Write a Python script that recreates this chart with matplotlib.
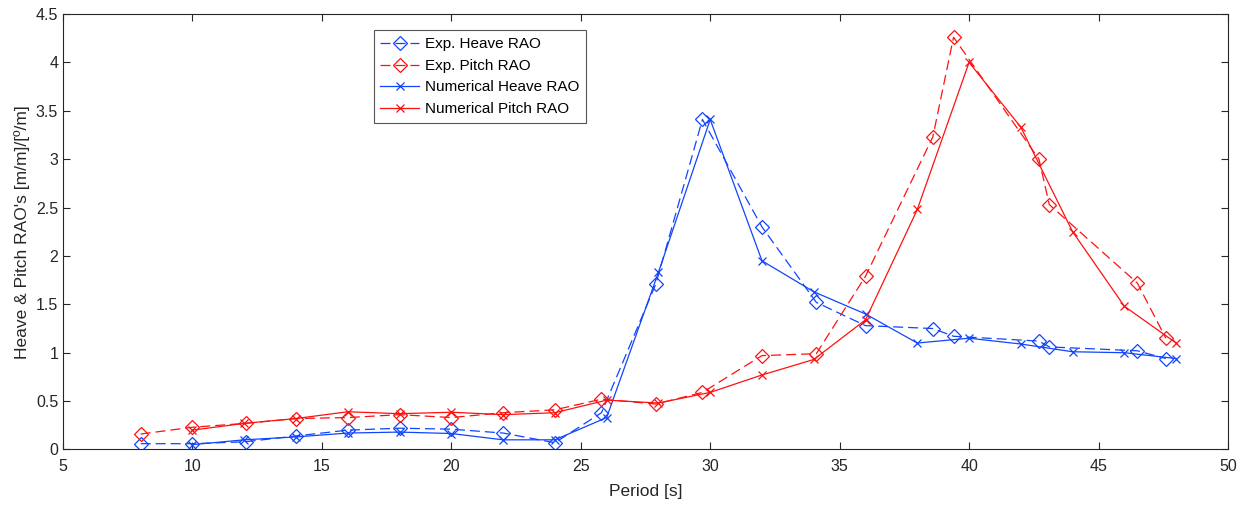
import matplotlib
matplotlib.use('Agg')
import matplotlib.pyplot as plt

plt.rcParams['font.family'] = ['Liberation Sans', 'DejaVu Sans']

# experimental periods (s) and RAOs
exp_period = [8, 10, 12.05, 14, 16, 18, 20, 22, 24, 25.8, 27.9, 29.7, 32, 34.1,
              36, 38.6, 39.4, 42.7, 43.1, 46.5, 47.6]
exp_heave = [0.06, 0.06, 0.08, 0.14, 0.20, 0.22, 0.21, 0.17, 0.07, 0.38, 1.71, 3.41,
             2.30, 1.52, 1.28, 1.25, 1.17, 1.12, 1.06, 1.02, 0.94]
exp_pitch = [0.16, 0.23, 0.27, 0.32, 0.33, 0.36, 0.33, 0.38, 0.41, 0.52, 0.47, 0.59,
             0.97, 0.99, 1.79, 3.23, 4.26, 3.00, 2.53, 1.72, 1.15]

# numerical results
num_period = [10, 12, 14, 16, 18, 20, 22, 24, 26, 28, 30, 32, 34, 36, 38, 40, 42, 44, 46, 48]
num_heave = [0.05, 0.10, 0.13, 0.17, 0.18, 0.165, 0.10, 0.10, 0.33, 1.83, 3.41, 1.95,
             1.63, 1.40, 1.10, 1.15, 1.09, 1.01, 1.00, 0.94]
num_pitch = [0.20, 0.27, 0.32, 0.39, 0.37, 0.385, 0.36, 0.38, 0.51, 0.48, 0.59, 0.77,
             0.93, 1.34, 2.48, 4.00, 3.33, 2.25, 1.48, 1.10]

blue = '#1045ff'
red = '#ff1010'

fig = plt.figure(figsize=(12.53, 5.09), dpi=100)
ax = fig.add_axes([0.0503, 0.1169, 0.9297, 0.8556])

ax.plot(exp_period, exp_heave, '--', marker='D', color=blue, mfc='none', ms=7.5, lw=0.9,
        mew=0.9, dashes=(8, 4), label='Exp. Heave RAO')
ax.plot(exp_period, exp_pitch, '--', marker='D', color=red, mfc='none', ms=7.5, lw=0.9,
        mew=0.9, dashes=(8, 4), label='Exp. Pitch RAO')
ax.plot(num_period, num_heave, '-', marker='x', color=blue, ms=6, lw=0.9, mew=0.9,
        label='Numerical Heave RAO')
ax.plot(num_period, num_pitch, '-', marker='x', color=red, ms=6, lw=0.9, mew=0.9,
        label='Numerical Pitch RAO')

ax.set_xlim(5, 50)
ax.set_ylim(0, 4.5)
ax.set_xticks(range(5, 51, 5))
ax.set_yticks([0, 0.5, 1, 1.5, 2, 2.5, 3, 3.5, 4, 4.5])
ax.set_yticklabels(['0', '0.5', '1', '1.5', '2', '2.5', '3', '3.5', '4', '4.5'])
ax.tick_params(direction='in', top=True, right=True, length=5, labelsize=11.5,
               colors='#262626', width=0.8)
ax.tick_params(axis='x', pad=7)
for s in ax.spines.values():
    s.set_color('#262626')
    s.set_linewidth(0.8)

ax.set_xlabel('Period [s]', fontsize=12.5, color='#262626', labelpad=7)
ax.set_ylabel("Heave & Pitch RAO's [m/m]/[º/m]", fontsize=12.5, color='#262626')

leg = ax.legend(loc='upper left', bbox_to_anchor=(0.26, 0.98), fontsize=11,
                fancybox=False, framealpha=1, edgecolor='#555555', borderpad=0.45,
                labelspacing=0.5, handlelength=2.5, handletextpad=0.4)
leg.get_frame().set_linewidth(0.8)

fig.savefig('out.png', dpi=100)
